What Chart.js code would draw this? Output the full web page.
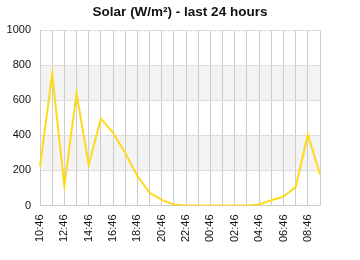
<!DOCTYPE html>
<html>
<head>
<meta charset="utf-8">
<script src="https://cdn.jsdelivr.net/npm/chart.js@4"></script>
<style>
    body { margin: 0; background: #fff; }
    #wrap { width: 360px; height: 260px; }
</style>
</head>
<body>
<div id="wrap"><canvas id="solar-chart"></canvas></div>
<script>
// hourly readings, 10:46 yesterday to 09:46 today
const hours = ["10:46", "11:46", "12:46", "13:46", "14:46", "15:46", "16:46", "17:46",
    "18:46", "19:46", "20:46", "21:46", "22:46", "23:46", "00:46", "01:46",
    "02:46", "03:46", "04:46", "05:46", "06:46", "07:46", "08:46", "09:46"];
const solar = [220, 750, 110, 640, 232, 495, 415, 300, 168, 72, 32, 5,
    0, 0, 0, 0, 0, 0, 6, 30, 50, 105, 405, 177];
const yTicks = [0, 200, 400, 600, 800, 1000];

////
///////////////////// Shaded bands /////////////////////
////

const bandPlugin = {
    id: 'bands',
    beforeDraw(chart) {
        const ctx = chart.ctx;
        const area = chart.chartArea;
        const y = chart.scales.y;
        ctx.save();
        ctx.fillStyle = '#f3f3f3';
        for (let i = 1; i < yTicks.length - 1; i += 2) {
            const top = y.getPixelForValue(yTicks[i + 1]);
            const bottom = y.getPixelForValue(yTicks[i]);
            ctx.fillRect(area.left, top, area.right - area.left, bottom - top);
        }
        ctx.restore();
    }
};

const solarChart = new Chart(document.getElementById("solar-chart"), {
    type: 'line',
    data: {
        labels: hours,
        datasets: [{
            data: solar,
            borderColor: '#ffd91a',
            borderWidth: 2,
            pointRadius: 0,
            tension: 0,
            fill: false
        }]
    },
    options: {
        responsive: true,
        maintainAspectRatio: false,
        animation: { duration: 0 },
        layout: { padding: { left: 0, right: 0, bottom: 9 } },
        scales: {
            x: {
                offset: false,
                grid: { color: '#cccccc', drawTicks: false },
                border: { color: '#cccccc' },
                ticks: {
                    autoSkip: false,
                    maxRotation: 90,
                    minRotation: 90,
                    padding: 9,
                    color: '#111',
                    font: { family: 'Liberation Sans', size: 11 },
                    callback: (val, i) => i % 2 === 0 ? hours[i] : ''
                }
            },
            y: {
                min: 0,
                max: 1000,
                grid: { color: '#dddddd', drawTicks: false },
                border: { color: '#cccccc' },
                afterBuildTicks: axis => { axis.ticks = yTicks.map(v => ({ value: v })); },
                afterFit: axis => { axis.width = 40; },
                ticks: {
                    padding: 9,
                    color: '#111',
                    font: { family: 'Liberation Sans', size: 11 },
                    callback: v => String(v)
                }
            },
            // empty axis on the right, only to keep the margin
            yRight: {
                position: 'right',
                grid: { display: false },
                border: { display: false },
                ticks: { display: false },
                afterFit: axis => { axis.width = 40; }
            }
        },
        plugins: {
            legend: { display: false },
            tooltip: { enabled: false },
            title: {
                display: true,
                text: 'Solar (W/m²) - last 24 hours',
                color: '#111',
                font: { family: 'Liberation Sans', size: 13.5, weight: 'bold' },
                padding: { top: 4, bottom: 10 }
            }
        }
    },
    plugins: [bandPlugin]
});
</script>
</body>
</html>
